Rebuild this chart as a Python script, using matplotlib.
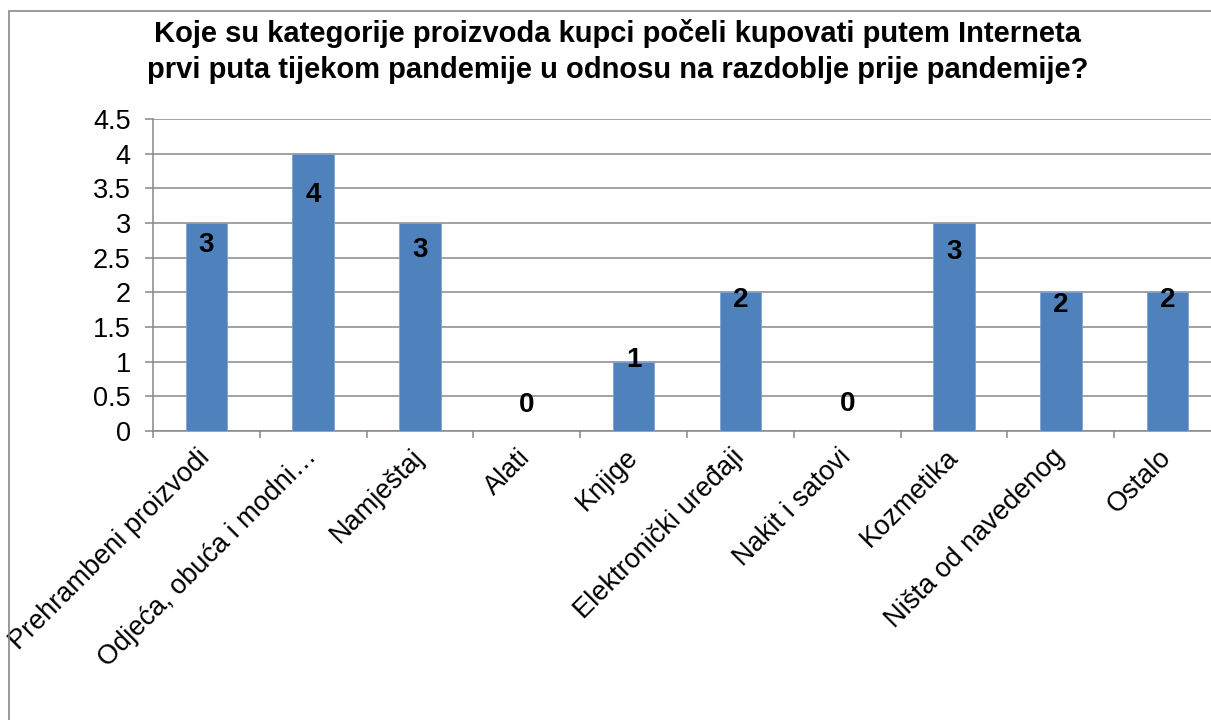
import matplotlib.pyplot as plt
from matplotlib.patches import Rectangle
from matplotlib.ticker import MultipleLocator, FixedLocator

categories = ['Prehrambeni proizvodi', 'Odjeća, obuća i modni…', 'Namještaj', 'Alati',
              'Knjige', 'Elektronički uređaji', 'Nakit i satovi', 'Kozmetika',
              'Ništa od navedenog', 'Ostalo']
values = [3, 4, 3, 0, 1, 2, 0, 3, 2, 2]

# where each data label sits relative to its bar top, in pixels (Excel placed them by hand)
label_shift_px = [-22, -41, -27, 26, 2, -8, 27, -29, -13, -8]

title = ('Koje su kategorije proizvoda kupci počeli kupovati putem Interneta\n'
         'prvi puta tijekom pandemije u odnosu na razdoblje prije pandemije?')

plt.rcParams['font.family'] = ['Liberation Sans', 'DejaVu Sans']

W, H = 1211, 720
fig = plt.figure(figsize=(W / 100, H / 100), dpi=100)

# chart border (cropped on right and bottom)
fig.patches.append(Rectangle((9 / W, -0.1), 1.2, 1.1 - 11 / H, transform=fig.transFigure,
                             fill=False, edgecolor='#898989', linewidth=1.2))

ax = fig.add_axes([153 / W, 289 / H, (1221 - 153) / W, 312 / H])
x = list(range(len(categories)))
ax.bar(x, values, width=0.39, color='#4F81BD', edgecolor='#7FA3D1', linewidth=0.6, zorder=3)

ax.set_xlim(-0.5, len(categories) - 0.5)
ax.set_ylim(0, 4.5)
ax.yaxis.set_major_locator(MultipleLocator(0.5))
ax.set_yticklabels([f'{v:g}' for v in ax.get_yticks()])
ax.grid(axis='y', color='#888888', linewidth=1.1, zorder=0)

ax.set_xticks(x)
ax.set_xticklabels(categories, rotation=45, ha='right', va='center',
                   rotation_mode='anchor', fontsize=19.5)
ax.xaxis.set_minor_locator(FixedLocator([i - 0.5 for i in range(len(categories) + 1)]))
ax.tick_params(axis='x', which='major', length=0, pad=16)
ax.tick_params(axis='x', which='minor', length=5, color='#888888', width=1.1)
ax.tick_params(axis='y', length=6, color='#888888', width=1.1, labelsize=19.5, pad=10)

for side in ['top', 'right']:
    ax.spines[side].set_visible(False)
for side in ['left', 'bottom']:
    ax.spines[side].set_color('#888888')
    ax.spines[side].set_linewidth(1.1)

for xi, v, d in zip(x, values, label_shift_px):
    ax.annotate(f'{v}', (xi, v), xytext=(0, d * 0.72), textcoords='offset points',
                ha='center', va='center', fontsize=20, fontweight='bold', zorder=4)

fig.text(618 / W, 1 - 19 / H, title, ha='center', va='top', fontsize=21,
         fontweight='bold', linespacing=1.38)

fig.savefig('out.png', dpi=100)
